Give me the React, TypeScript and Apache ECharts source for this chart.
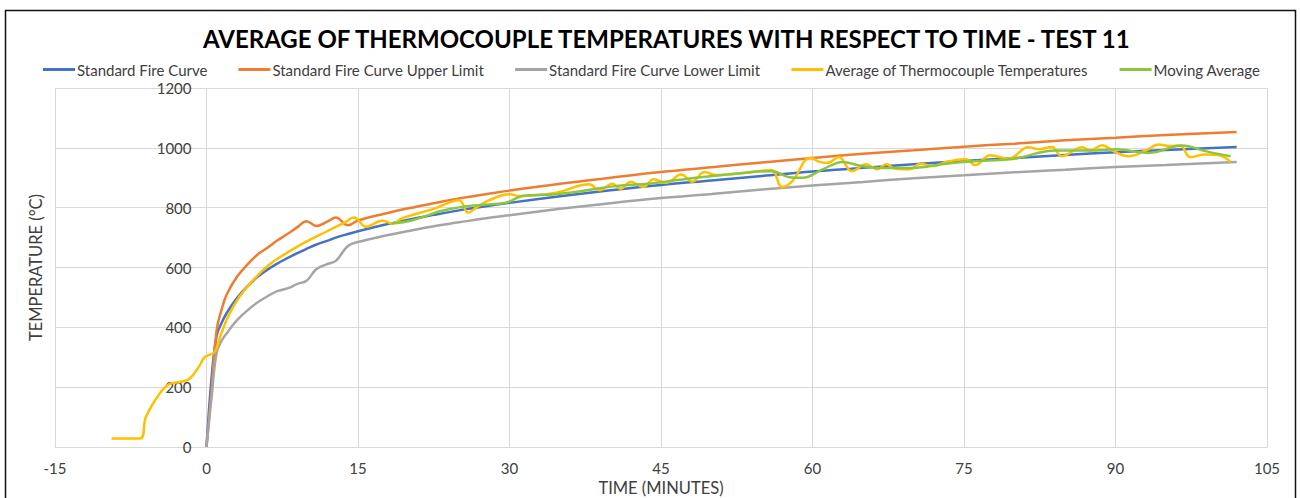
import React, { useEffect, useRef } from "react";
import * as echarts from "echarts";

// Standard fire curve and its tolerance limits (time in minutes, temperature in °C)
const limitTimes = [0, 0.5, 1, 1.5, 2, 3, 4, 5, 6, 7, 8, 9, 9.9, 10.9, 12, 12.8, 14, 15, 17.5, 20, 22.5, 25, 27.5, 30, 35, 40, 45, 50, 55, 60, 65, 70, 75, 80, 85, 90, 95, 102];
const standardCurve = [0, 230, 372, 415, 448, 497, 535, 567, 592, 613, 631, 648, 662, 677, 690, 700, 712, 721, 742, 760, 776, 791, 804, 816, 838, 858, 876, 891, 906, 921, 933, 945, 956, 966, 976, 985, 993, 1003];
const upperLimit = [0, 190, 390, 460, 510, 568, 608, 642, 665, 690, 712, 735, 755, 739, 754, 767, 741, 757, 779, 798, 815, 831, 844, 857, 880, 900, 919, 935, 951, 966, 980, 992, 1004, 1014, 1025, 1034, 1043, 1053];
const lowerLimit = [0, 165, 315, 355, 380, 423, 455, 482, 503, 521, 530, 545, 556, 595, 612, 622, 672, 685, 705, 722, 738, 751, 764, 775, 796, 815, 832, 846, 861, 874, 886, 898, 908, 918, 927, 936, 943, 953];

// Average of thermocouple temperatures
const avgTimes = [-9.4, -6.6, -6.0, -4.65, -3.66, -2.67, -1.68, -0.69, -0.2, 0.8, 1.45, 2.1, 3.1, 4.42, 6.07, 7.72, 9.7, 12, 13.65, 14.6, 15.8, 17.4, 18.4, 19.4, 22.4, 25, 25.9, 26.7, 28, 30, 31, 34.6, 37.9, 38.9, 40.2, 41, 42, 43.2, 44.3, 45.5, 47, 48.1, 49.3, 50.4, 53.4, 55.9, 57, 58, 59.8, 60.7, 61.5, 62.6, 63.9, 65.3, 66.4, 67.3, 68.2, 69.6, 70.7, 71.9, 73.2, 75.2, 76.1, 77.6, 79.4, 81.4, 82.4, 83.7, 84.7, 86.7, 87.5, 88.7, 89.8, 91.3, 93, 94.3, 95.3, 96.4, 97.4, 98.9, 100.2, 101.4];
const avgTemps = [28, 28, 100, 178, 211, 217, 228, 272, 300, 318, 378, 433, 494, 550, 606, 644, 683, 722, 750, 767, 736, 756, 747, 765, 795, 825, 783, 800, 825, 845, 839, 850, 878, 858, 880, 863, 887, 869, 895, 883, 911, 887, 919, 909, 917, 926, 869, 889, 967, 953, 950, 969, 922, 945, 928, 945, 930, 928, 947, 939, 953, 962, 942, 975, 964, 1002, 995, 1003, 972, 1002, 991, 1009, 989, 972, 991, 1011, 1006, 1008, 969, 978, 976, 953];

// Moving average
const movTimes = [18.3, 20.4, 23, 24, 26, 28, 29.7, 31.3, 34.6, 37.2, 40.5, 43.8, 46.8, 50.1, 53.4, 56, 57.7, 59, 61, 63, 64.6, 66.6, 69.9, 73.2, 76.5, 78.5, 80.1, 84.1, 87.4, 90, 93.3, 96.6, 98.9, 101.4];
const movTemps = [747, 758, 787, 795, 806, 811, 817, 839, 845, 856, 872, 880, 893, 906, 917, 922, 902, 900, 928, 953, 941, 933, 933, 947, 956, 959, 964, 991, 991, 995, 983, 1008, 989, 972];

const seriesNames = [
  "Standard Fire Curve",
  "Standard Fire Curve Upper Limit",
  "Standard Fire Curve Lower Limit",
  "Average of Thermocouple Temperatures",
  "Moving Average",
];
const seriesColors = ["#4472C4", "#ED7D31", "#A5A5A5", "#FFC000", "#8CC63F"];

const zip = (xs: number[], ys: number[]) => xs.map((x, i) => [x, ys[i]]);

const FONT = "Lato";

export default function App() {
  const ref = useRef<HTMLDivElement>(null);
  useEffect(() => {
    if (!ref.current) return;
    const chart = echarts.init(ref.current, undefined, { renderer: "svg" });
    const datasets = [
      zip(limitTimes, standardCurve),
      zip(limitTimes, upperLimit),
      zip(limitTimes, lowerLimit),
      zip(avgTimes, avgTemps),
      zip(movTimes, movTemps),
    ];
    chart.setOption({
      animation: false,
      backgroundColor: "#ffffff",
      textStyle: { fontFamily: FONT },
      title: {
        text: "AVERAGE OF THERMOCOUPLE TEMPERATURES WITH RESPECT TO TIME - TEST 11",
        left: 203,
        top: 26,
        padding: 0,
        textStyle: { fontFamily: FONT, fontSize: 24, fontWeight: "bold", color: "#000000" },
      },
      legend: {
        data: seriesNames,
        top: 57,
        left: 38,
        icon: "rect",
        itemWidth: 32,
        itemHeight: 3,
        itemGap: 31,
        textStyle: { fontFamily: FONT, fontSize: 15, color: "#404040", padding: [0, 0, 0, -3] },
      },
      grid: { left: 55, right: 34, top: 88, bottom: 51, containLabel: false, outerBoundsMode: "none" },
      xAxis: {
        type: "value",
        min: -15,
        max: 105,
        interval: 15,
        name: "TIME (MINUTES)",
        nameLocation: "middle",
        nameGap: 32,
        nameTextStyle: { fontFamily: FONT, fontSize: 16.5, color: "#404040" },
        axisLine: { show: true, lineStyle: { color: "#d9d9d9", width: 1 } },
        axisTick: { show: false },
        axisLabel: { fontFamily: FONT, fontSize: 15, color: "#404040", margin: 13 },
        splitLine: { show: true, lineStyle: { color: "#d9d9d9", width: 1 } },
      },
      yAxis: {
        type: "value",
        min: 0,
        max: 1200,
        interval: 200,
        // the value axis crosses the time axis at 0 minutes (15 min = 1212/8 px from the left edge)
        offset: -151.5,
        name: "TEMPERATURE (°C)",
        nameLocation: "middle",
        nameGap: 162,
        nameRotate: 90,
        nameTextStyle: { fontFamily: FONT, fontSize: 16.5, color: "#404040" },
        axisLine: { show: false, onZero: false },
        axisTick: { show: false },
        axisLabel: {
          fontFamily: FONT,
          fontSize: 15,
          color: "#404040",
          margin: 15,
          formatter: (v: number) => String(v),
        },
        splitLine: { show: true, lineStyle: { color: "#d9d9d9", width: 1 } },
      },
      graphic: [
        {
          type: "rect",
          silent: true,
          z: 100,
          shape: { x: 5.5, y: 10.5, width: 1290, height: 500 },
          style: { fill: "none", stroke: "#111111", lineWidth: 1.5 },
        },
      ],
      series: seriesNames.map((name, i) => ({
        name,
        type: "line",
        data: datasets[i],
        symbol: "none",
        smooth: 0.4,
        lineStyle: { width: 2.5, color: seriesColors[i] },
        itemStyle: { color: seriesColors[i] },
        z: 2 + i,
      })),
    });
    return () => chart.dispose();
  }, []);
  return (
    <div
      ref={ref}
      style={{ position: "absolute", left: 0, top: 0, width: 1301, height: 498 }}
    />
  );
}
